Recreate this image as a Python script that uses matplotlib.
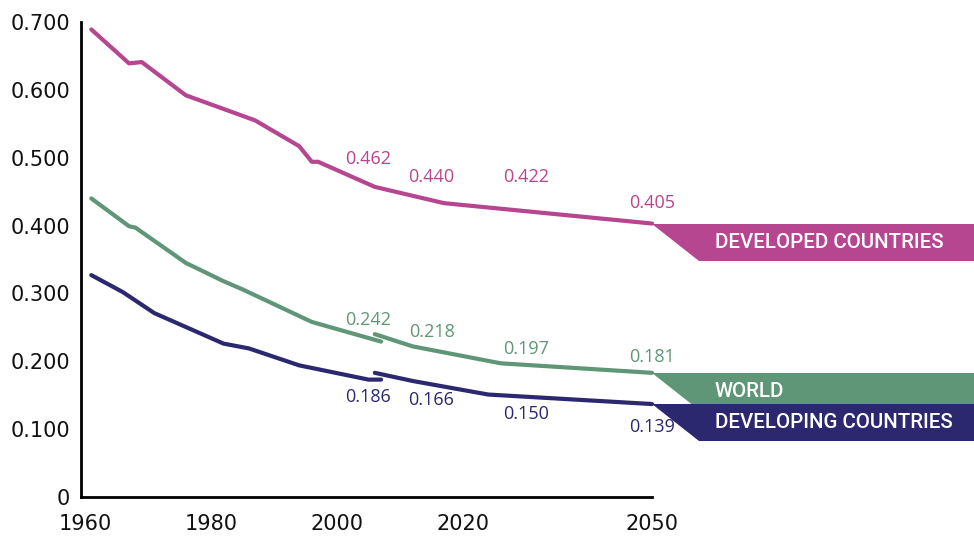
import matplotlib
matplotlib.use('Agg')
import matplotlib.pyplot as plt
import numpy as np

# 数据
dev_years = [1961, 1967, 1969, 1976, 1987, 1994, 1996, 1997, 2006, 2017, 2050]
dev_values = [0.689, 0.639, 0.641, 0.592, 0.555, 0.517, 0.494, 0.494, 0.457, 0.433, 0.403]

world_hist_years = [1961, 1967, 1968, 1976, 1982, 1985, 1996, 2007]
world_hist_values = [0.440, 0.399, 0.397, 0.345, 0.318, 0.306, 0.258, 0.229]
world_proj_years = [2006, 2012, 2026, 2050]
world_proj_values = [0.240, 0.222, 0.197, 0.183]

devg_hist_years = [1961, 1966, 1971, 1982, 1986, 1994, 2005, 2007]
devg_hist_values = [0.327, 0.302, 0.271, 0.226, 0.219, 0.194, 0.173, 0.173]
devg_proj_years = [2006, 2012, 2024, 2050]
devg_proj_values = [0.183, 0.171, 0.151, 0.137]

label_years = [2005, 2015, 2030, 2050]
dev_labels = [0.462, 0.440, 0.422, 0.405]
world_labels = [0.242, 0.218, 0.197, 0.181]
devg_labels = [0.186, 0.166, 0.150, 0.139]

xticks = [1960, 1980, 2000, 2020, 2050]
yticks = [0, 0.1, 0.2, 0.3, 0.4, 0.5, 0.6, 0.7]
ytick_labels = ['0', '0.100', '0.200', '0.300', '0.400', '0.500', '0.600', '0.700']

series_names = ['DEVELOPED COUNTRIES', 'WORLD', 'DEVELOPING COUNTRIES']

# 颜色
c_dev = '#b5468f'
c_world = '#5f9677'
c_devg = '#2b2870'

# 画布和坐标轴 (像素换算)
W, H = 974, 539
fig = plt.figure(figsize=(W / 100, H / 100), dpi=100)
ax = fig.add_axes([81 / W, 42 / H, (W - 81) / W, 475 / H])

px_per_year = 6.3
x_left = 1960 - 4 / px_per_year
x_right = 1960 + (W - 85) / px_per_year
ax.set_xlim(x_left, x_right)
ax.set_ylim(0, 0.7)

lw = 3.0
ax.plot(dev_years, dev_values, color=c_dev, lw=lw, solid_capstyle='round', solid_joinstyle='round')
ax.plot(world_hist_years, world_hist_values, color=c_world, lw=lw, solid_capstyle='round', solid_joinstyle='round')
ax.plot(world_proj_years, world_proj_values, color=c_world, lw=lw, solid_capstyle='round', solid_joinstyle='round')
ax.plot(devg_hist_years, devg_hist_values, color=c_devg, lw=lw, solid_capstyle='round', solid_joinstyle='round')
ax.plot(devg_proj_years, devg_proj_values, color=c_devg, lw=lw, solid_capstyle='round', solid_joinstyle='round')

# 数值标签 (偏移单位: 像素)
label_font = dict(family='Open Sans', fontsize=13)
dev_off = [-24, -21, -34, -19]
world_off = [-13, -17, -14, -17]
devg_off = [26, 16, 19, 24]
for labels, offs, col in [(dev_labels, dev_off, c_dev),
                          (world_labels, world_off, c_world),
                          (devg_labels, devg_off, c_devg)]:
    for yr, v, off in zip(label_years, labels, offs):
        ax.annotate(f'{v:.3f}', (yr, v), xytext=(0, -off), textcoords='offset pixels',
                    ha='center', va='center', color=col, **label_font)

# 右侧色带
band_h = 37 / 679.0
band_dx = 47 / px_per_year
ends = [dev_values[-1], world_proj_values[-1], devg_proj_values[-1]]
colors = [c_dev, c_world, c_devg]
for name, v, col in zip(series_names, ends, colors):
    xs = [2050, x_right, x_right, 2050 + band_dx]
    ys = [v, v, v - band_h, v - band_h]
    ax.fill(xs, ys, color=col, lw=0, clip_on=False, zorder=3)
    ax.text(1960 + (715 - 85) / px_per_year, v - band_h / 2, name, color='white',
            family='Roboto', fontweight='medium', fontsize=14.8, va='center', ha='left',
            zorder=4)

# 坐标轴样式
for s in ['top', 'right']:
    ax.spines[s].set_visible(False)
ax.spines['left'].set_linewidth(2)
ax.spines['bottom'].set_linewidth(2)
ax.spines['bottom'].set_bounds(x_left, 2050)
ax.spines['left'].set_bounds(0, 0.7)

ax.set_xticks(xticks)
ax.set_xticklabels([str(t) for t in xticks])
ax.set_yticks(yticks)
ax.set_yticklabels(ytick_labels)
ax.tick_params(axis='both', length=0, labelsize=15, colors='#111111')
ax.tick_params(axis='y', pad=8)
ax.tick_params(axis='x', pad=12)

fig.savefig('out.png', dpi=100)
